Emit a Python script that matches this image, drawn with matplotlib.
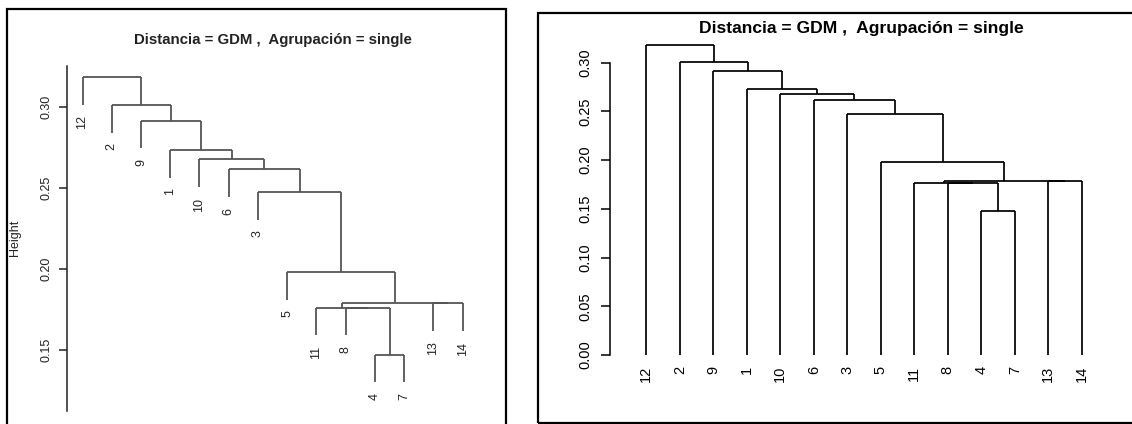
import matplotlib
matplotlib.use('Agg')
import matplotlib.pyplot as plt
from matplotlib.patches import Rectangle

plt.rcParams['font.family'] = ['Liberation Sans', 'DejaVu Sans']

# leaf order as drawn, left to right
labels = ['12', '2', '9', '1', '10', '6', '3', '5', '11', '8', '4', '7', '13', '14']
# merges like R's hclust$merge: negative = leaf number, positive = earlier merge (1-based)
merge_a = [-4, -8, -11, -13, 3, -5, -3, -6, -10, -1, -9, -2, -12]
merge_b = [-7, 1, 2, -14, 4, 5, 6, 7, 8, 9, 10, 11, 12]
heights = [0.1474, 0.1763, 0.1763, 0.1789, 0.1789, 0.1980, 0.2474,
           0.2614, 0.2676, 0.2734, 0.2915, 0.3010, 0.3182]

title = 'Distancia = GDM ,  Agrupación = single'
left_ticks = [0.15, 0.20, 0.25, 0.30]
right_ticks = [0.00, 0.05, 0.10, 0.15, 0.20, 0.25, 0.30]

W, H = 1132, 424


def px_axes(fig, x0, y0, x1, y1):
    # pixel box (top-left origin) -> figure axes
    return fig.add_axes([x0 / W, 1 - y1 / H, (x1 - x0) / W, (y1 - y0) / H])


def draw_tree(ax, hang, color, fsize, lw, tcolor):
    mid = []
    hmin, hmax = min(heights), max(heights)
    for a, b, h in zip(merge_a, merge_b, heights):
        xs = []
        for c in (a, b):
            if c < 0:
                x = labels.index(str(-c)) + 1
                yb = h - hang * (hmax - hmin) if hang >= 0 else 0.0
                ax.annotate(str(-c), (x, yb), xytext=(0, -7.5), textcoords='offset points',
                            rotation=90, ha='center', va='top', fontsize=fsize,
                            color=tcolor, annotation_clip=False)
            else:
                x = mid[c - 1]
                yb = heights[c - 1]
            ax.plot([x, x], [yb, h], color=color, lw=lw, clip_on=False,
                    solid_capstyle='butt')
            xs.append(x)
        ax.plot(xs, [h, h], color=color, lw=lw, clip_on=False, solid_capstyle='butt')
        mid.append(sum(xs) / 2)


def style_axis(ax, ticks, fsize, tlen, pad, color):
    for s in ('top', 'right', 'bottom'):
        ax.spines[s].set_visible(False)
    ax.spines['left'].set_linewidth(1.1)
    ax.spines['left'].set_color(color)
    ax.set_xticks([])
    ax.set_yticks(ticks)
    ax.set_yticklabels(['%.2f' % t for t in ticks], rotation=90, va='center')
    ax.tick_params(axis='y', length=tlen, width=1.1, pad=pad, labelsize=fsize,
                   colors=color)
    ax.patch.set_alpha(0)


fig = plt.figure(figsize=(W / 100, H / 100), dpi=100)

# panel borders
fig.patches.append(Rectangle((7.3 / W, -0.05), (505.7 - 7.3) / W, 1.05 - 9.0 / H,
                             transform=fig.transFigure, fill=False, ec='black', lw=1.6))
fig.patches.append(Rectangle((537.7 / W, 1 - 422.7 / H), 0.6, (422.7 - 13.3) / H,
                             transform=fig.transFigure, fill=False, ec='black', lw=1.6))

# left panel: hang = 0.1
ax1 = px_axes(fig, 67.3, 66.0, 477.8, 410.7)
ax1.set_xlim(0.48, 14.52)
ax1.set_ylim(0.1128, 0.3251)
style_axis(ax1, left_ticks, 9, 5.8, 5.0, '#222222')
draw_tree(ax1, 0.1, '#555555', 9, 1.3, '#222222')
fig.text(273 / W, 1 - 40 / H, title, ha='center', va='center', fontsize=10.8,
         fontweight='bold', color='#222222')
fig.text(15 / W, 1 - 238 / H, 'Height', rotation=90, ha='center', va='center',
         fontsize=9, color='#222222')

# right panel: hang = -1
ax2 = px_axes(fig, 610.3, 62.7, 1117.8, 355.0)
ax2.set_xlim(-0.0746, 15.0746)
ax2.set_ylim(0.0, 0.30)
style_axis(ax2, right_ticks, 10.5, 6.5, 6.5, 'black')
draw_tree(ax2, -1, 'black', 10.5, 1.25, 'black')
fig.text(861 / W, 1 - 28.5 / H, title, ha='center', va='center', fontsize=12.6,
         fontweight='bold', color='black')

fig.savefig('out.png', dpi=100)
